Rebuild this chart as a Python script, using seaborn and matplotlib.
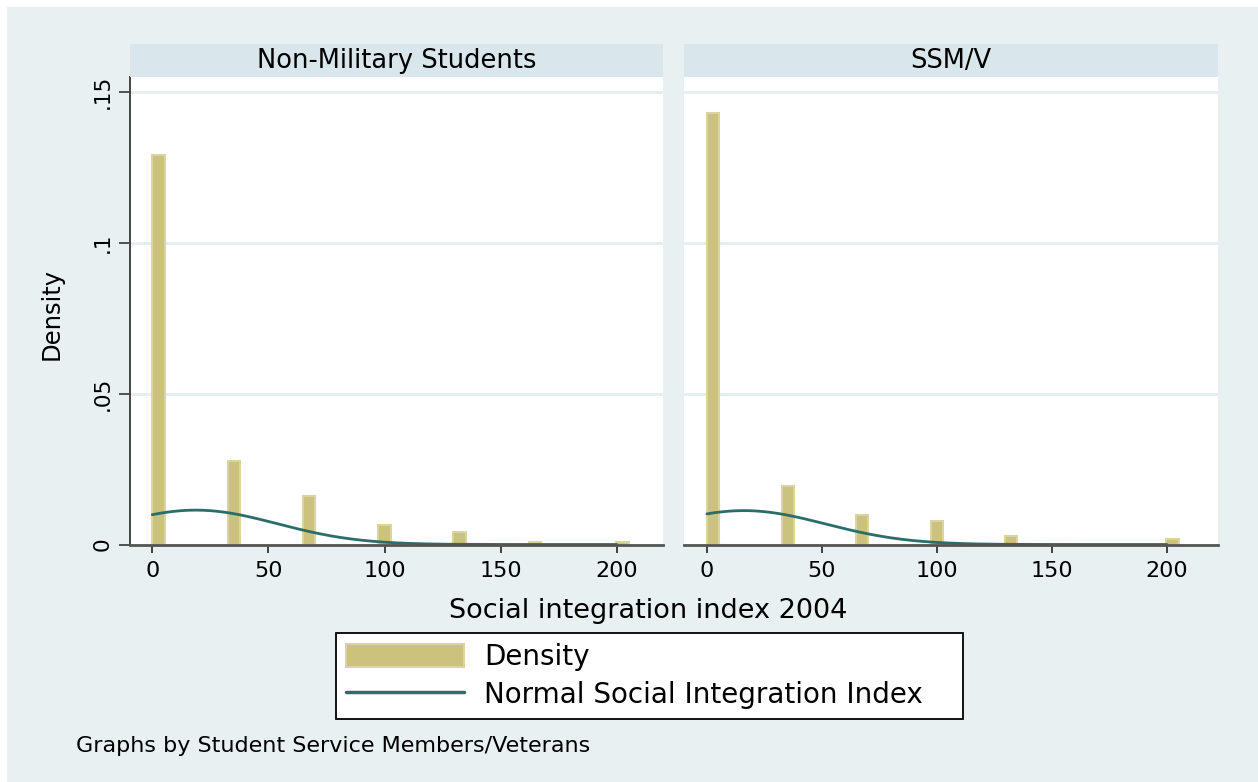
import numpy as np
import pandas as pd
import matplotlib
matplotlib.use("Agg")
import matplotlib.pyplot as plt
import seaborn as sns
from matplotlib.patches import Rectangle, Patch
from matplotlib.lines import Line2D

# ---- data -----------------------------------------------------------------
groups = ["Non-Military Students", "SSM/V"]
index_values = {
    "Non-Military Students": [0, 33.3, 66.7, 100, 133.3, 166.7, 200],
    "SSM/V": [0, 33.3, 66.7, 100, 133.3, 200],
}
density_values = {
    "Non-Military Students": [0.129, 0.0276, 0.0162, 0.0064, 0.0040, 0.0008, 0.0008],
    "SSM/V": [0.1432, 0.0193, 0.0097, 0.0077, 0.0029, 0.0018],
}
normal_mean = {"Non-Military Students": 18.7, "SSM/V": 16.0}
normal_sd = {"Non-Military Students": 35.0, "SSM/V": 35.5}
bin_width = 5.4
x_ticks = [0, 50, 100, 150, 200]
y_ticks = [0, 0.05, 0.10, 0.15]
y_tick_labels = ["0", ".05", ".1", ".15"]

# ---- style ----------------------------------------------------------------
sns.set_theme(style="white")
plt.rcParams["font.family"] = ["DejaVu Sans"]
plt.rcParams["text.color"] = "black"
plt.rcParams["axes.labelcolor"] = "black"

BG = "#e8f0f2"
STRIP = "#d9e6eb"
GRID = "#e4edf0"
BAR_FILL = "#cac27d"
BAR_EDGE = "#dad49e"
LINE = "#2b6d68"
AXIS = "#555555"

W, H = 1258, 782


def fx(px):
    return px / W


def fy(py):
    return 1 - py / H


fig = plt.figure(figsize=(W / 100, H / 100), dpi=100)
fig.patch.set_facecolor("white")
fig.patches.append(Rectangle((fx(7), 0), 1, (H - 7) / H, transform=fig.transFigure,
                             facecolor=BG, edgecolor="none", zorder=-10))

panel_lr = [(130, 663), (684, 1218)]
panel_xlim = [(-9.6, 219.9), (-10.0, 222.2)]
plot_top, plot_bottom = 77, 544.5
bins = [round(k * bin_width, 4) for k in range(39)]

for i, g in enumerate(groups):
    l, r = panel_lr[i]
    ax = fig.add_axes([fx(l), fy(plot_bottom), (r - l) / W, (plot_bottom - plot_top) / H])
    ax.set_facecolor("white")

    df = pd.DataFrame({"value": index_values[g], "density": density_values[g]})
    sns.histplot(data=df, x="value", weights="density", bins=bins, stat="count",
                 color=BAR_FILL, edgecolor=BAR_EDGE, linewidth=1.5, alpha=1,
                 ax=ax, zorder=2)

    xs = np.linspace(0, 200, 400)
    mu, sd = normal_mean[g], normal_sd[g]
    ys = np.exp(-0.5 * ((xs - mu) / sd) ** 2) / (sd * np.sqrt(2 * np.pi))
    sns.lineplot(x=xs, y=ys, color=LINE, linewidth=2, ax=ax, zorder=3)

    ax.set_xlim(*panel_xlim[i])
    ax.set_ylim(0, 0.155)
    ax.set_xlabel("")
    ax.set_ylabel("")

    ax.set_yticks(y_ticks)
    ax.yaxis.grid(True, color=GRID, linewidth=2, zorder=0)
    ax.xaxis.grid(False)
    ax.set_axisbelow(True)

    ax.set_xticks(x_ticks)
    ax.set_xticklabels([str(t) for t in x_ticks])
    ax.tick_params(axis="x", bottom=True, direction="out", length=6, width=1.3,
                   color="#333333", pad=6, labelsize=16, labelcolor="black")

    for s in ["top", "right"]:
        ax.spines[s].set_visible(False)
    ax.spines["bottom"].set_color(AXIS)
    ax.spines["bottom"].set_linewidth(2)
    ax.spines["bottom"].set_zorder(5)

    if i == 0:
        ax.spines["left"].set_color("#444444")
        ax.spines["left"].set_linewidth(1.4)
        ax.set_yticklabels(y_tick_labels, rotation=90, va="center")
        ax.tick_params(axis="y", left=True, direction="out", length=8, width=1.3,
                       color="#444444", pad=4.5, labelsize=15.5, labelcolor="black")
    else:
        ax.spines["left"].set_visible(False)
        ax.tick_params(axis="y", left=False, labelleft=False)

    strip = fig.add_axes([fx(l), fy(plot_top), (r - l) / W, 33 / H])
    strip.set_facecolor(STRIP)
    strip.set_xticks([])
    strip.set_yticks([])
    for s in strip.spines.values():
        s.set_visible(False)
    strip.text(0.5, 0.28, g, ha="center", va="baseline", fontsize=18.5,
               color="black", transform=strip.transAxes)

fig.text(fx(648), fy(618.5), "Social integration index 2004", ha="center",
         va="baseline", fontsize=19.5, color="black")
fig.text(fx(51.5), fy(314), "Density", rotation=90, ha="center", va="center",
         fontsize=17.5, color="black")
fig.text(fx(76), fy(752.5), "Graphs by Student Service Members/Veterans",
         ha="left", va="baseline", fontsize=16, color="black")

handles = [Patch(facecolor=BAR_FILL, edgecolor=BAR_EDGE, linewidth=1.5),
           Line2D([], [], color=LINE, linewidth=2.5)]
leg = fig.legend(handles, ["Density", "Normal Social Integration Index"],
                 loc="center", bbox_to_anchor=(fx(336), fy(719), 627 / W, 86 / H),
                 mode="expand", borderaxespad=0, frameon=True, fancybox=False,
                 edgecolor="black", facecolor="white", framealpha=1,
                 fontsize=20, handlelength=4.25, handleheight=0.94,
                 handletextpad=0.72, borderpad=0.36, labelspacing=0.35)
leg.get_frame().set_linewidth(1.3)
for t in leg.get_texts():
    t.set_color("black")

fig.savefig("out.png", dpi=100)
